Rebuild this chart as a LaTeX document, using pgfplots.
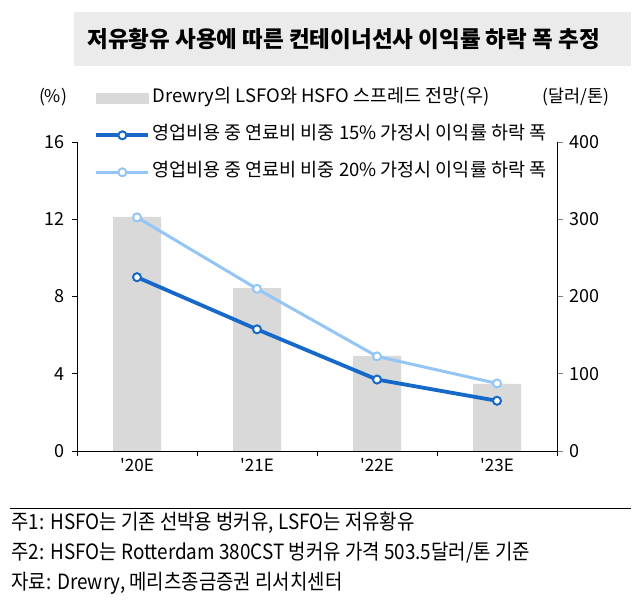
\documentclass[border=0pt]{standalone}
\usepackage{pgfplots}
\pgfplotsset{compat=1.18}
\usepackage{fontspec}
\setmainfont{Noto Sans CJK KR}
\newfontfamily\notefont[FakeStretch=0.9]{Noto Sans CJK KR}
\definecolor{barGray}{HTML}{D9D9D9}
\definecolor{darkBlue}{HTML}{1769C9}
\definecolor{lightBlue}{HTML}{94C6F5}
\definecolor{titleGray}{HTML}{EBEBEB}
\begin{document}
\begin{tikzpicture}[x=1pt,y=1pt]
\path[use as bounding box] (0,0) rectangle (639,600);
% title
\fill[titleGray] (74,534) rectangle (631,588);
\node[anchor=west,font=\fontsize{22.5}{26}\selectfont\bfseries] at (84,561) {저유황유 사용에 따른 컨테이너선사 이익률 하락 폭 추정};
% unit labels
\node[font=\fontsize{17.5}{20}\selectfont] at (53,503) {(\%)};
\node[font=\fontsize{17.5}{20}\selectfont] at (576,503) {(달러/톤)};
% bars on right axis
\begin{axis}[
  at={(77pt,149pt)}, anchor=south west,
  scale only axis, width=480pt, height=309pt,
  xmin=-0.5, xmax=3.5, ymin=0, ymax=400,
  axis x line=none, axis y line*=right,
  ytick={0,100,200,300,400},
  tick align=outside, major tick length=6pt,
  y axis line style={line width=0.8pt},
  ytick style={line width=0.8pt},
  /pgf/number format/assume math mode=true,
  ticklabel style={font=\fontsize{18}{21}\selectfont},
  yticklabel style={xshift=3pt},
]
\addplot[ybar, bar width=48pt, fill=barGray, draw=none] coordinates {(0,303) (1,211) (2,123) (3,87)};
\end{axis}
% lines on left axis
\begin{axis}[
  at={(77pt,149pt)}, anchor=south west,
  scale only axis, width=480pt, height=309pt,
  xmin=-0.5, xmax=3.5, ymin=0, ymax=16,
  axis x line*=bottom, axis y line*=left,
  ytick={0,4,8,12,16},
  xtick={-0.5,0.5,1.5,2.5,3.5}, xticklabels={},
  extra x ticks={0,1,2,3},
  extra x tick labels={\textquotesingle20E,\textquotesingle21E,\textquotesingle22E,\textquotesingle23E},
  extra x tick style={major tick length=0pt},
  tick align=outside, major tick length=5pt,
  axis line style={line width=0.8pt},
  tick style={line width=0.8pt, black},
  /pgf/number format/assume math mode=true,
  ticklabel style={font=\fontsize{18}{21}\selectfont},
  xticklabel style={font=\fontsize{17}{20}\selectfont, yshift=-4pt},
  yticklabel style={xshift=-4pt},
  legend style={at={(rel axis cs:0.036,1.176)}, anchor=north west, draw=none, fill=none,
    font=\fontsize{18.5}{21}\selectfont, row sep=16pt, inner sep=0pt,
    nodes={text height=13pt, text depth=4pt},
    cells={anchor=west}},
  legend cell align=left,
  legend image code/.code={\draw[mark repeat=2,mark phase=2,#1] plot coordinates {(0pt,0pt) (26pt,0pt) (52pt,0pt)};},
]
\addlegendimage{legend image code/.code={\fill[barGray] (0pt,-5pt) rectangle (52pt,5pt);}}
\addlegendentry{Drewry의 LSFO와 HSFO 스프레드 전망(우)}
\addplot[darkBlue, line width=3.8pt, mark=*, mark size=4pt, mark options={fill=white, line width=2pt}] coordinates {(0,9.0) (1,6.3) (2,3.7) (3,2.6)};
\addlegendentry{영업비용 중 연료비 비중 15\% 가정시 이익률 하락 폭}
\addplot[lightBlue, line width=3pt, mark=*, mark size=4pt, mark options={fill=white, line width=2pt}] coordinates {(0,12.1) (1,8.4) (2,4.9) (3,3.5)};
\addlegendentry{영업비용 중 연료비 비중 20\% 가정시 이익률 하락 폭}
\end{axis}
% footnotes
\draw[line width=0.8pt] (10,92) -- (631,92);
\node[anchor=west,font=\fontsize{21}{24}\selectfont\notefont] at (8,77) {주1: HSFO는 기존 선박용 벙커유, LSFO는 저유황유};
\node[anchor=west,font=\fontsize{21}{24}\selectfont\notefont] at (8,47) {주2: HSFO는 Rotterdam 380CST 벙커유 가격 503.5달러/톤 기준};
\node[anchor=west,font=\fontsize{21}{24}\selectfont\notefont] at (8,17) {자료: Drewry, 메리츠종금증권 리서치센터};
\end{tikzpicture}
\end{document}
